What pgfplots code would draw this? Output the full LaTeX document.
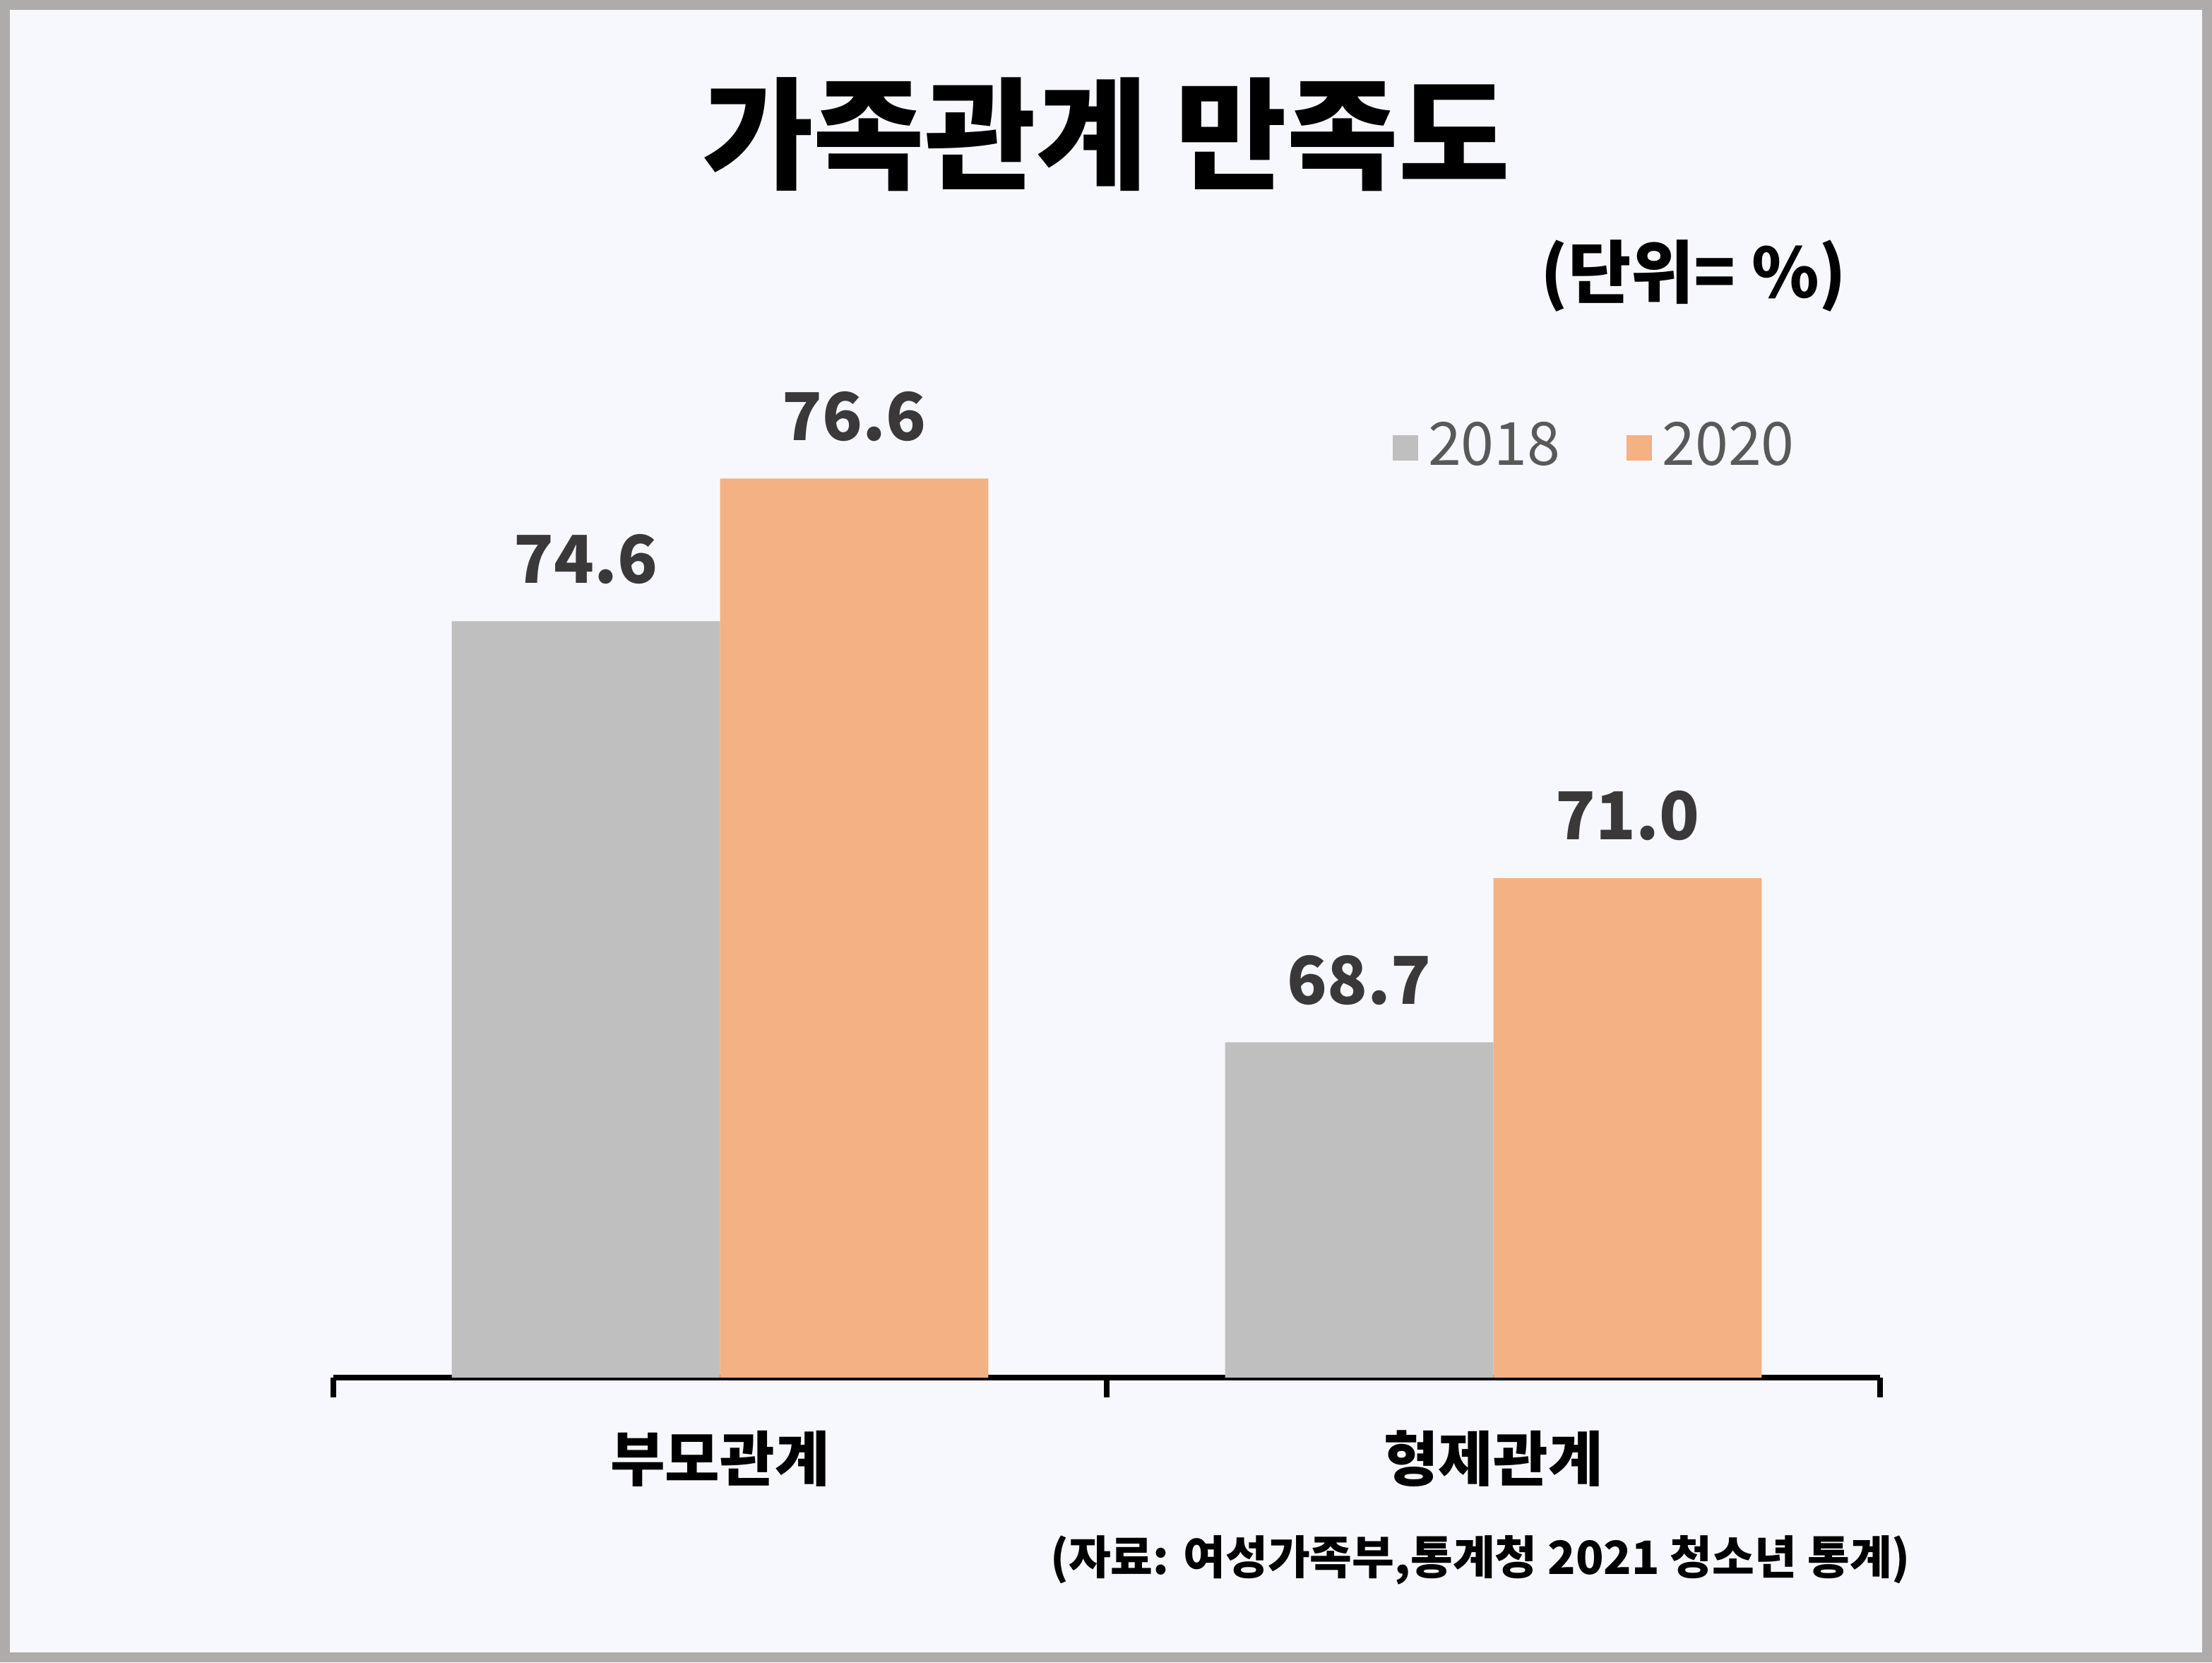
\documentclass[border=0pt]{standalone}
\usepackage{fontspec}
\setmainfont{Noto Sans CJK KR}
\usepackage{pgfplots}
\pgfplotsset{compat=1.18}

\definecolor{bgcol}{HTML}{F7F8FD}
\definecolor{framecol}{HTML}{AEABAA}
\definecolor{bar18}{HTML}{BFBFBF}
\definecolor{bar20}{HTML}{F4B183}
\definecolor{valcol}{HTML}{3A3838}
\definecolor{legcol}{HTML}{595959}

\begin{document}
\begin{tikzpicture}
% frame and background
\fill[framecol] (0,0) rectangle (156.6mm,-117.65mm);
\fill[bgcol] (0.7mm,-0.7mm) rectangle (155.9mm,-116.95mm);

\node[font=\fontsize{24.4}{28}\selectfont\bfseries] at (78.3mm,-9.5mm) {가족관계 만족도};
\node[font=\fontsize{13.8}{16}\selectfont\bfseries] at (119.9mm,-19.5mm) {(단위= \%)};

\begin{axis}[
  at={(23.6mm,-97.5mm)}, anchor=south west,
  width=109.5mm, height=70.7mm, scale only axis,
  xmin=-0.5, xmax=1.5, ymin=64, ymax=78,
  axis y line=none, axis x line*=bottom,
  x axis line style={line width=1.1pt, -},
  ybar=0pt, bar width=0.347,
  xtick={0,1}, xticklabels={부모관계,형제관계},
  major tick length=0pt,
  xticklabel style={font=\fontsize{12}{14}\selectfont\bfseries, yshift=-2.5mm},
  extra x ticks={-0.5,0.5,1.5}, extra x tick labels={},
  extra x tick style={tick style={line width=1pt, black}, major tick length=1.4mm, tick align=outside},
  nodes near coords, point meta=explicit symbolic,
  every node near coord/.append style={font=\fontsize{13.3}{16}\selectfont\bfseries, text=valcol, yshift=1.4mm},
  legend style={at={(0.818,0.931)}, anchor=center, draw=none, fill=none,
    font=\fontsize{12}{14}\selectfont, text=legcol, legend columns=2,
    /tikz/every even column/.append style={column sep=4mm}},
  legend image code/.code={\fill[#1] (0mm,-0.9mm) rectangle (1.8mm,0.9mm);},
]
\addplot[fill=bar18, draw=none] coordinates {(0,74.6) [74.6] (1,68.7) [68.7]};
\addlegendentry{2018}
\addplot[fill=bar20, draw=none] coordinates {(0,76.6) [76.6] (1,71.0) [71.0]};
\addlegendentry{2020}
\end{axis}

\node[font=\fontsize{9.25}{11}\selectfont\bfseries] at (104.8mm,-110.4mm) {(자료: 여성가족부,통계청 2021 청소년 통계)};
\end{tikzpicture}
\end{document}
